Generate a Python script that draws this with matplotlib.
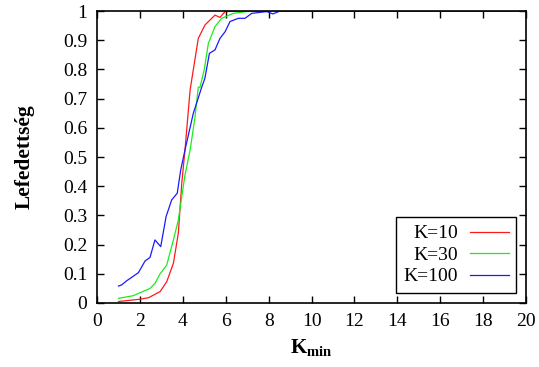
import matplotlib
matplotlib.use("Agg")
import matplotlib.pyplot as plt

plt.rcParams['font.family'] = ['Liberation Serif', 'DejaVu Serif']
plt.rcParams['mathtext.fontset'] = 'custom'
plt.rcParams['mathtext.rm'] = 'Liberation Serif'
plt.rcParams['mathtext.bf'] = 'Liberation Serif:bold'

labels = ["K=10", "K=30", "K=100"]
colors = ["#ff1a1a", "#1aee1a", "#1a1aff"]

x_k10 = [1.0, 2.0, 2.4, 2.94, 3.25, 3.56, 3.79, 3.95, 4.1, 4.34, 4.72, 5.03, 5.5, 5.73, 5.97, 6.5, 20.0]
y_k10 = [0.005, 0.013, 0.018, 0.039, 0.073, 0.136, 0.239, 0.41, 0.524, 0.73, 0.906, 0.952, 0.986, 0.978, 0.998, 1.0, 1.0]

x_k30 = [1.0, 1.69, 2.47, 2.7, 2.94, 3.25, 3.56, 3.79, 4.1, 4.34, 4.57, 4.72, 4.8, 5.0, 5.19, 5.5, 5.81, 6.35, 6.98, 7.5, 20.0]
y_k30 = [0.016, 0.025, 0.05, 0.067, 0.10, 0.13, 0.216, 0.284, 0.438, 0.524, 0.638, 0.739, 0.739, 0.80, 0.889, 0.947, 0.975, 0.992, 0.998, 1.0, 1.0]

x_k100 = [1.0, 1.15, 1.38, 1.62, 1.93, 2.24, 2.47, 2.7, 2.97, 3.22, 3.48, 3.74, 3.9, 4.1, 4.49, 4.88, 5.03, 5.24, 5.5, 5.73, 5.97, 6.2, 6.59, 6.9, 7.21, 7.91, 8.2, 8.5, 9.0, 20.0]
y_k100 = [0.058, 0.062, 0.076, 0.088, 0.104, 0.144, 0.156, 0.216, 0.193, 0.296, 0.353, 0.376, 0.455, 0.524, 0.65, 0.739, 0.77, 0.855, 0.867, 0.906, 0.929, 0.964, 0.975, 0.975, 0.992, 0.998, 0.99, 0.999, 1.0, 1.0]

xticks = list(range(0, 21, 2))
yticks = [0, 0.1, 0.2, 0.3, 0.4, 0.5, 0.6, 0.7, 0.8, 0.9, 1]
yticklabels = ["0", "0.1", "0.2", "0.3", "0.4", "0.5", "0.6", "0.7", "0.8", "0.9", "1"]

fig = plt.figure(figsize=(5.39, 3.67), dpi=100)
ax = fig.add_axes([0.18, 0.1744, 0.796, 0.7956])

for xs, ys, lab, c in zip([x_k10, x_k30, x_k100], [y_k10, y_k30, y_k100], labels, colors):
    ax.plot(xs, ys, color=c, lw=0.9, label=lab)

ax.set_xlim(0, 20)
ax.set_ylim(0, 1)
ax.set_xticks(xticks)
ax.set_xticklabels([str(t) for t in xticks])
ax.set_yticks(yticks)
ax.set_yticklabels(yticklabels)
ax.tick_params(direction='in', top=True, right=True, length=5, width=1, labelsize=14, pad=7)
for s in ax.spines.values():
    s.set_linewidth(1.2)

ax.set_xlabel(r'$\mathbf{K_{min}}$', fontsize=15, labelpad=5)
ax.set_ylabel('Lefedettség', fontsize=15.5, fontweight='bold', labelpad=20)

leg = ax.legend(loc='lower right', markerfirst=False, fontsize=14, frameon=True, fancybox=False,
                edgecolor='black', framealpha=1, borderpad=0.4, labelspacing=0.2,
                handlelength=2.0, handletextpad=0.6, borderaxespad=0.5)
leg.get_frame().set_linewidth(1.0)
for t in leg.get_texts():
    t.set_ha('right')

fig.savefig("out.png", dpi=100)
